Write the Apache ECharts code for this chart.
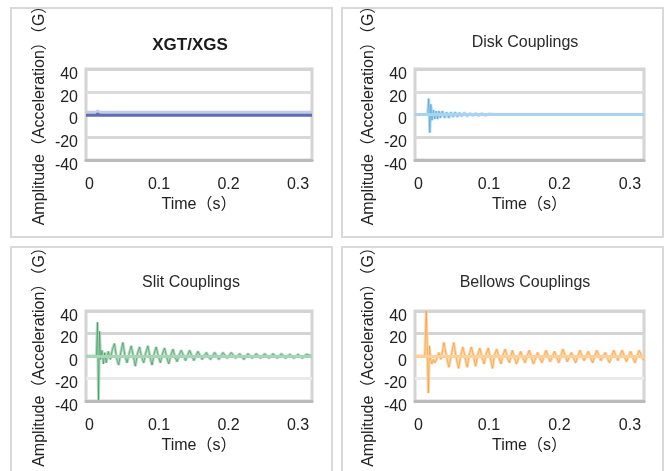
<!DOCTYPE html>
<html>
<head>
<meta charset="utf-8">
<script src="https://cdn.jsdelivr.net/npm/echarts@6/dist/echarts.min.js"></script>
<style>
  html, body { margin: 0; padding: 0; background: #fff; }
  #chart { width: 666px; height: 471px; }
</style>
</head>
<body>
<div id="chart"></div>
<script>
// panel titles and axis texts
const panelTitles = ['XGT/XGS', 'Disk Couplings', 'Slit Couplings', 'Bellows Couplings'];
const xTickValues = [0, 0.1, 0.2, 0.3];
const yTickLimits = [-40, 40];
const xName = 'Time（s）';
const yName = 'Amplitude（Acceleration）（G）';

// [time (s), amplitude (G)]
const xgtData = [[-0.005, -0.6], [0.011, -0.6], [0.012, 1.2], [0.013, -0.6], [0.32, -0.6]];

const diskData = [
  [-0.005, 0], [0.013, 0], [0.0145, 14], [0.016, -16], [0.0175, 9], [0.019, -5], [0.021, 4],
  [0.023, -4], [0.025, 3], [0.027, -4], [0.029, 3], [0.031, -3], [0.034, 3], [0.037, -3],
  [0.040, 2], [0.043, -3], [0.046, 2], [0.049, -2], [0.052, 2], [0.055, -2], [0.058, 1.5],
  [0.061, -1.5], [0.065, 1.5], [0.069, -1.5], [0.073, 1], [0.077, -1], [0.081, 1], [0.085, -1],
  [0.090, 0.8], [0.095, -0.8], [0.100, 0.5], [0.110, 0], [0.32, 0]
];

const slitData = [
  [-0.005, 0], [0.010, 0], [0.0115, 30], [0.013, -39], [0.0145, 22], [0.016, -3], [0.018, 5],
  [0.020, -7], [0.022, 3], [0.024, -6], [0.027, 4], [0.030, -3], [0.033, 6], [0.036, 11],
  [0.039, -2], [0.042, -8], [0.045, 3], [0.048, 12], [0.051, 0], [0.054, -6], [0.057, 2],
  [0.060, 9], [0.063, 0], [0.066, -9], [0.069, 2], [0.072, 8], [0.075, -1], [0.078, -6],
  [0.081, 3], [0.084, 9], [0.087, -1], [0.090, -8], [0.093, 2], [0.096, 8], [0.099, 0],
  [0.102, -6], [0.105, 2], [0.108, 7], [0.111, -1], [0.114, -7], [0.117, 1], [0.120, 6],
  [0.123, -1], [0.126, -5], [0.129, 1], [0.132, 5], [0.138, -4], [0.144, 5], [0.150, -4],
  [0.156, 4], [0.162, -3], [0.168, 3], [0.174, -3], [0.180, 3], [0.186, -3], [0.192, 3],
  [0.198, -2], [0.204, 3], [0.210, -2], [0.216, 2], [0.222, -3], [0.228, 2], [0.234, -2],
  [0.240, 2], [0.246, -2], [0.252, 2], [0.258, -2], [0.264, 2], [0.270, -2], [0.276, 2],
  [0.282, -2], [0.288, 1.5], [0.294, -2], [0.300, 1.5], [0.306, -2], [0.312, 1.5], [0.320, 0]
];

const bellowsData = [
  [-0.005, 0], [0.009, 0], [0.011, 40], [0.0125, 5], [0.014, -33], [0.0155, 9], [0.017, -3],
  [0.019, -7], [0.021, -3], [0.023, -6], [0.026, -2], [0.029, 3], [0.032, -3], [0.036, 12],
  [0.040, -1], [0.043, -10], [0.047, 2], [0.050, 12], [0.053, 0], [0.057, -11], [0.060, 1],
  [0.063, 8], [0.066, -1], [0.069, -10], [0.072, 1], [0.075, 8], [0.078, 0], [0.081, -9],
  [0.084, 1], [0.087, 7], [0.090, -1], [0.093, -7], [0.096, 2], [0.099, 7], [0.102, -2],
  [0.105, -11], [0.108, 1], [0.111, 6], [0.114, -1], [0.117, -7], [0.120, 1], [0.123, 6],
  [0.126, -1], [0.129, -6], [0.133, 5], [0.139, -7], [0.145, 4], [0.151, -6], [0.157, 5],
  [0.163, -7], [0.169, 3], [0.175, -6], [0.181, 5], [0.187, -5], [0.193, 4], [0.199, -6],
  [0.205, 6], [0.211, -5], [0.217, 3], [0.223, -6], [0.229, 5], [0.235, -4], [0.241, 4],
  [0.247, -6], [0.253, 5], [0.259, -4], [0.265, 3], [0.271, -6], [0.277, 5], [0.283, -4],
  [0.289, 5], [0.295, -5], [0.301, 4], [0.307, -6], [0.313, 5], [0.320, -4]
];

const FONT = "'Liberation Sans', 'Noto Sans CJK SC', sans-serif";

// layout of the four panels (px)
const panels = [
  { box: [11, 8, 321, 229], grid: { left: 86, top: 69, width: 226, height: 91 }, titleX: 190, titleY: 45 },
  { box: [342, 8, 321, 229], grid: { left: 415, top: 69, width: 229, height: 91 }, titleX: 525, titleY: 43 },
  { box: [11, 247, 321, 240], grid: { left: 86, top: 311, width: 226, height: 90 }, titleX: 191, titleY: 283 },
  { box: [342, 247, 321, 240], grid: { left: 415, top: 311, width: 229, height: 90 }, titleX: 525, titleY: 283 }
];

const splitColors = [
  ['#cfcfcf', '#d8d8d8', '#d8d8d8', '#dcdcdc', '#d4d4d4'],
  ['#cfcfcf', '#d8d8d8', '#d8d8d8', '#dcdcdc', '#d4d4d4'],
  ['#cfcfcf', '#eaeaea', '#d8d8d8', '#d4d4d4', '#d4d4d4'],
  ['#cfcfcf', '#eaeaea', '#d8d8d8', '#d4d4d4', '#d4d4d4']
];

const chart = echarts.init(document.getElementById('chart'), null, { renderer: 'canvas' });

const grids = panels.map(p => Object.assign({
  show: true,
  borderColor: '#d4d4d4',
  borderWidth: 3,
  backgroundColor: 'transparent',
  outerBoundsMode: 'none',
  containLabel: false
}, p.grid));

const xAxes = panels.map((p, i) => ({
  type: 'value',
  gridIndex: i,
  min: -0.005,
  max: 0.32,
  name: xName,
  nameLocation: 'middle',
  nameGap: 37,
  nameTextStyle: { fontFamily: FONT, fontSize: 16, color: '#222' },
  axisLine: { show: true, onZero: false, lineStyle: { color: '#bababa', width: 3 } },
  axisTick: { show: false },
  splitLine: { show: false },
  axisLabel: {
    customValues: xTickValues,
    margin: 17,
    fontFamily: FONT,
    fontSize: 16,
    color: '#222',
    formatter: v => String(v)
  }
}));

// labels sit a little below their grid lines in the reference
const yAxes = panels.map((p, i) => ({
  type: 'value',
  gridIndex: i,
  min: yTickLimits[0],
  max: yTickLimits[1],
  interval: 20,
  name: yName,
  nameLocation: 'middle',
  nameRotate: 90,
  nameGap: 38,
  nameTextStyle: { fontFamily: FONT, fontSize: 16, color: '#222', padding: [0, 0, 0, 6] },
  axisLine: { show: false },
  axisTick: { show: false },
  axisLabel: {
    margin: 8,
    color: '#222',
    formatter: v => '{v|' + v + '}',
    rich: { v: { fontFamily: FONT, fontSize: 16, color: '#222', padding: [11, 0, 0, 0] } }
  },
  splitLine: { show: true, lineStyle: { color: splitColors[i], width: 3 } }
}));

function wave(idx, data, light, dark) {
  return [
    {
      type: 'line',
      xAxisIndex: idx,
      yAxisIndex: idx,
      data: data,
      showSymbol: false,
      silent: true,
      z: 3,
      lineStyle: { color: light, width: 3, opacity: 0.85 },
      markLine: {
        silent: true,
        symbol: 'none',
        label: { show: false },
        lineStyle: { color: light, width: 3, type: 'solid', opacity: 1 },
        data: [{ yAxis: 0 }]
      }
    },
    {
      type: 'line',
      xAxisIndex: idx,
      yAxisIndex: idx,
      data: data,
      showSymbol: false,
      silent: true,
      z: 4,
      lineStyle: { color: dark, width: 1, opacity: 0.6 }
    }
  ];
}

const series = [
  {
    type: 'line',
    xAxisIndex: 0,
    yAxisIndex: 0,
    data: xgtData,
    showSymbol: false,
    silent: true,
    z: 3,
    lineStyle: {
      color: '#5a6db5',
      width: 3,
      shadowColor: '#c5cae6',
      shadowBlur: 0,
      shadowOffsetY: -3
    }
  }
].concat(
  wave(1, diskData, '#a9d4f0', '#3f9fdc'),
  wave(2, slitData, '#a8d5b8', '#2f9157'),
  wave(3, bellowsData, '#fdd09b', '#f59427')
);

const graphics = [];
panels.forEach((p, i) => {
  graphics.push({
    type: 'rect',
    silent: true,
    shape: { x: p.box[0], y: p.box[1], width: p.box[2], height: p.box[3] },
    style: { fill: null, stroke: '#d9d9d9', lineWidth: 2 }
  });
  graphics.push({
    type: 'text',
    silent: true,
    x: p.titleX,
    y: p.titleY,
    style: {
      text: panelTitles[i],
      align: 'center',
      verticalAlign: 'middle',
      font: (i === 0 ? 'bold 17px ' : '16px ') + FONT,
      fill: i === 0 ? '#1a1a1a' : '#2a2a2a'
    }
  });
});

const option = {
  animation: false,
  backgroundColor: '#fff',
  grid: grids,
  xAxis: xAxes,
  yAxis: yAxes,
  series: series,
  graphic: graphics
};

chart.setOption(option);
</script>
</body>
</html>
